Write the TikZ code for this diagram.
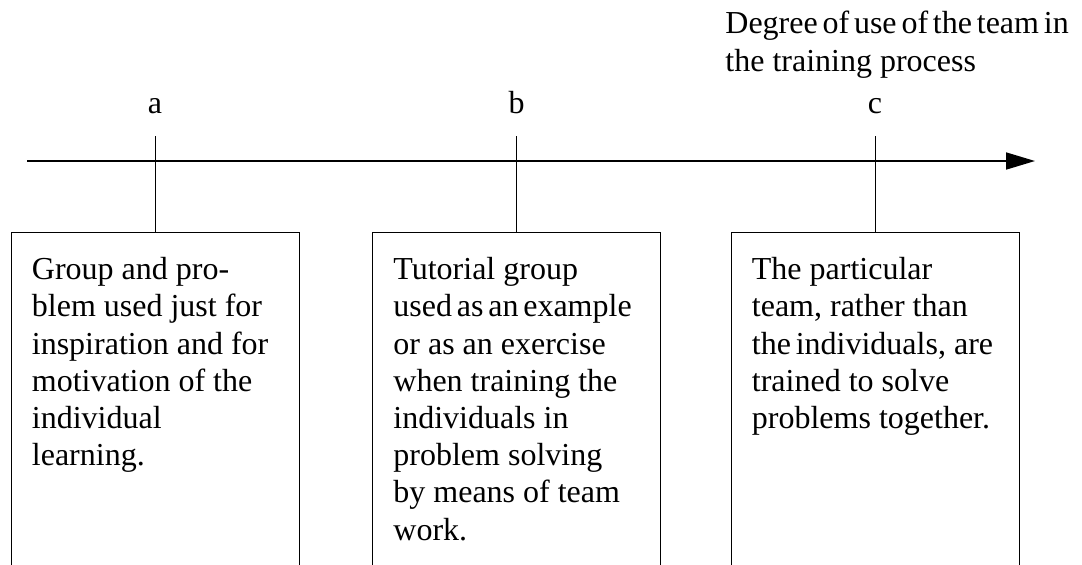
\documentclass[tikz,border=0pt]{standalone}
\usepackage{fontspec}
\setmainfont{Liberation Serif}
\usetikzlibrary{arrows.meta,positioning}
\newcommand{\tightline}[1]{{\spaceskip=2.4pt\relax#1}}

\begin{document}
\begin{tikzpicture}[x=0.5pt,y=-0.5pt,every node/.style={font=\fontsize{16}{18.6}\selectfont,inner sep=0pt},
    stage/.style={draw,line width=0.5pt,minimum width=144pt,minimum height=200pt,anchor=north},
    boxtext/.style={align=left,anchor=north west}]
  \useasboundingbox (0,0) rectangle (1082,564);
  \clip (0,0) rectangle (1082,564);
  % axis
  \coordinate (axstart) at (27,161);
  \coordinate (axend) at (1035,161);
  \draw[line width=0.85pt,-{Triangle[length=14.5pt,width=8.5pt]}] (axstart) -- (axend);
  \node[boxtext] (axlabel) at (725,11) {\tightline{Degree of use of the team in}\\the training process};
  % stages
  \node[stage] (boxa) at (155,232) {};
  \node[stage] (boxb) at (516.5,232) {};
  \node[stage] (boxc) at (875,232) {};
  \node[anchor=base] (la) at (155,113) {a};
  \node[anchor=base] (lb) at (516.5,113) {b};
  \node[anchor=base] (lc) at (875,113) {c};
  \draw[line width=0.5pt] (155,136) -- (boxa.north);
  \draw[line width=0.5pt] (516.5,136) -- (boxb.north);
  \draw[line width=0.5pt] (875,136) -- (boxc.north);
  \node[boxtext,below right=12.5pt and 10.5pt of boxa.north west] (ta) {Group and pro-\\blem used just for\\inspiration and for\\motivation of the\\individual\\learning.};
  \node[boxtext,below right=12.5pt and 10.5pt of boxb.north west] (tb) {Tutorial group\\\tightline{used as an example}\\or as an exercise\\when training the\\individuals in\\problem solving\\by means of team\\work.};
  \node[boxtext,below right=12.5pt and 10.5pt of boxc.north west] (tc) {The particular\\team, rather than\\\tightline{the individuals,} are\\trained to solve\\problems together.};
\end{tikzpicture}
\end{document}
